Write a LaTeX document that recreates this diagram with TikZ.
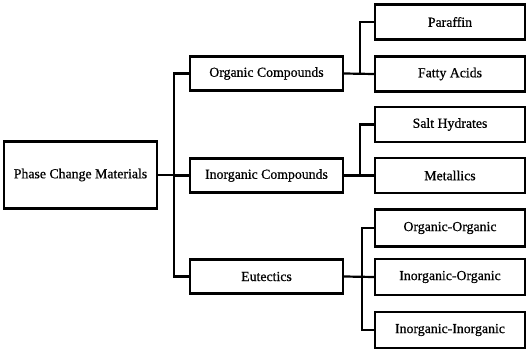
\documentclass[tikz,border=0pt]{standalone}
\usepackage{fontspec}
\setmainfont{Liberation Serif}
\newfontfamily\boxfont[FakeBold=0.7]{Liberation Serif}
\begin{document}
\begin{tikzpicture}[x=1pt,y=-1pt,
  box/.style={draw,line width=2.4pt,minimum height=34pt,inner sep=0pt,font=\boxfont\fontsize{13.8}{16}\selectfont},
  lone/.style={box,minimum width=153pt,minimum height=34pt},
  ltwo/.style={box,minimum width=150pt,minimum height=35pt},
  conn/.style={line width=2.2pt}]
\useasboundingbox (0,0) rectangle (530,350);
\node[box,minimum width=153pt,minimum height=67pt] (root) at (80.5,175) {Phase Change Materials};
\node[lone] (org) at (266.5,73.5) {Organic Compounds};
\node[lone] (inorg) at (266.5,175.5) {Inorganic Compounds};
\node[lone] (eut) at (266.5,276.5) {Eutectics};
\node[ltwo] (par) at (450,22) {Paraffin};
\node[ltwo] (fat) at (450,74) {Fatty Acids};
\node[ltwo] (salt) at (450,124.5) {Salt Hydrates};
\node[ltwo] (met) at (450,175.5) {Metallics};
\node[ltwo,minimum height=37pt] (oo) at (450,228) {Organic-Organic};
\node[ltwo,minimum height=36pt] (io) at (450,277) {Inorganic-Organic};
\node[ltwo,minimum height=36pt] (ii) at (450,330) {Inorganic-Inorganic};
\coordinate (t) at (174,0);
\coordinate (a) at (360,0);
\coordinate (b) at (362,0);
\draw[conn] (root.east) -- (root.east -| t);
\draw[conn] (org.west) -- (org.west -| t) -- (eut.west -| t) -- (eut.west);
\draw[conn] (inorg.west -| t) -- (inorg.west);
\draw[conn] (org.east) -- (fat.west);
\draw[conn] (par.west) -- (par.west -| a) -- (fat.west -| a);
\draw[conn] (inorg.east) -- (met.west);
\draw[conn] (salt.west) -- (salt.west -| a) -- (met.west -| a);
\draw[conn] (eut.east) -- (io.west);
\draw[conn] (oo.west) -- (oo.west -| b) -- (ii.west -| b) -- (ii.west);
\end{tikzpicture}
\end{document}
